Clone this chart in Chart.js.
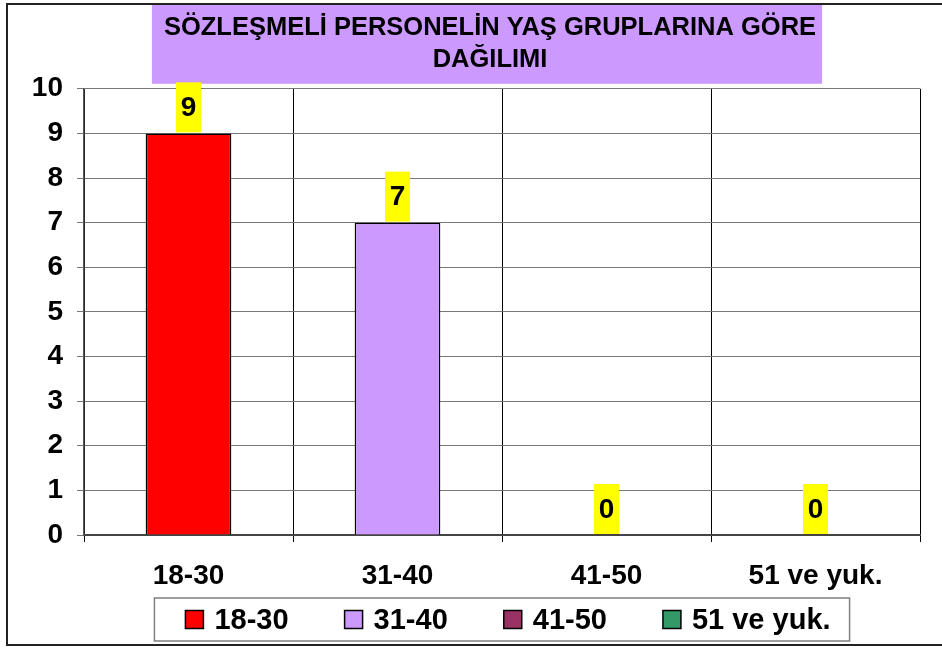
<!DOCTYPE html>
<html>
<head>
<meta charset="utf-8">
<script src="https://cdn.jsdelivr.net/npm/chart.js"></script>
<style>
  body { margin: 0; background: #fff; }
  canvas { display: block; }
</style>
</head>
<body>
<canvas id="chart" width="942" height="649"></canvas>
<script>
const titleLines = ["SÖZLEŞMELİ PERSONELİN YAŞ GRUPLARINA GÖRE", "DAĞILIMI"];
const ageGroups = ["18-30", "31-40", "41-50", "51 ve yuk."];
const staffCounts = [9, 7, 0, 0];
const groupColors = ["#FF0000", "#CC99FF", "#993366", "#339966"];
const yMin = 0;
const yMax = 10;
const yStep = 1;

const FONT = "'Liberation Sans', Arial, sans-serif";
const TITLE_SIZE = 25.5;
Chart.defaults.font.family = FONT;
Chart.defaults.color = "#000";

// outer frame + purple band behind the title
const backdrop = {
  id: "backdrop",
  afterLayout(chart) {
    // title sits a bit right of the page centre in the original
    chart.titleBlock.left = 60;
  },
  beforeDraw(chart) {
    const ctx = chart.ctx;
    const t = chart.titleBlock;
    ctx.save();
    ctx.fillStyle = "#fff";
    ctx.fillRect(0, 0, chart.width, chart.height);
    ctx.strokeStyle = "#222";
    ctx.lineWidth = 2;
    ctx.strokeRect(7, 4, chart.width + 10, chart.height - 8);
    ctx.font = "bold " + TITLE_SIZE + "px " + FONT;
    const w = ctx.measureText(titleLines[0]).width;
    const cx = (t.left + t.right) / 2;
    ctx.fillStyle = "#CC99FF";
    ctx.fillRect(cx - w / 2 - 12, t.top + 5, w + 18, t.height - 10);
    ctx.restore();
  }
};

// yellow value boxes above bars
const valueBoxes = {
  id: "valueBoxes",
  afterDatasetsDraw(chart) {
    const ctx = chart.ctx;
    const meta = chart.getDatasetMeta(0);
    ctx.save();
    ctx.font = "bold 28px " + FONT;
    ctx.textAlign = "center";
    ctx.textBaseline = "middle";
    meta.data.forEach((bar, i) => {
      const bw = 25, bh = 50;
      const bottom = bar.y - 1;
      ctx.fillStyle = "#FFFF00";
      ctx.fillRect(bar.x - bw / 2, bottom - bh, bw, bh);
      ctx.fillStyle = "#000";
      ctx.fillText(String(staffCounts[i]), bar.x, bottom - bh / 2 + 1);
    });
    ctx.restore();
  }
};

// boxed legend under the x axis
const boxedLegend = {
  id: "boxedLegend",
  afterDraw(chart) {
    const ctx = chart.ctx;
    const area = chart.chartArea;
    const sq = 18, gap = 11, spacing = 56;
    ctx.save();
    ctx.font = "bold 29px " + FONT;
    const widths = ageGroups.map(g => ctx.measureText(g).width);
    const total = widths.reduce((a, w) => a + sq + gap + w, 0) + spacing * (ageGroups.length - 1);
    let x = (area.left + area.right) / 2 + 6 - total / 2;
    const top = area.bottom + 63;
    const h = 43;
    const cy = top + h / 2;
    ctx.strokeStyle = "#808080";
    ctx.lineWidth = 1.5;
    ctx.strokeRect(x - 31, top, total + 50, h);
    ctx.textBaseline = "middle";
    ageGroups.forEach((g, i) => {
      ctx.fillStyle = groupColors[i];
      ctx.fillRect(x, cy - sq / 2, sq, sq);
      ctx.strokeStyle = "#000";
      ctx.lineWidth = 1.5;
      ctx.strokeRect(x, cy - sq / 2, sq, sq);
      ctx.fillStyle = "#000";
      ctx.fillText(g, x + sq + gap, cy + 1);
      x += sq + gap + widths[i] + spacing;
    });
    ctx.restore();
  }
};

new Chart(document.getElementById("chart"), {
  type: "bar",
  data: {
    labels: ageGroups,
    datasets: [{
      data: staffCounts,
      backgroundColor: groupColors,
      borderColor: "#000",
      borderWidth: 1.5,
      categoryPercentage: 1,
      barPercentage: 0.41
    }]
  },
  options: {
    responsive: false,
    animation: false,
    layout: { padding: { left: 8, right: 22, top: 0, bottom: 51 } },
    plugins: {
      legend: { display: false },
      tooltip: { enabled: false },
      title: {
        display: true,
        text: titleLines,
        color: "#000",
        font: { size: TITLE_SIZE, weight: "bold", lineHeight: 1.25 },
        padding: { top: 12, bottom: 13 }
      }
    },
    scales: {
      x: {
        grid: {
          color: c => (c.index === ageGroups.length ? "#808080" : "#000"),
          lineWidth: c => (c.index === ageGroups.length ? 2 : 1),
          tickLength: 7
        },
        border: { color: "#444", width: 2 },
        ticks: { font: { size: 28, weight: "bold" }, padding: 17, color: "#000" },
        afterFit(s) { s.height = 63; }
      },
      y: {
        min: yMin,
        max: yMax,
        grid: { color: "#777", lineWidth: 1, tickLength: 7 },
        border: { color: "#555", width: 1.5 },
        ticks: { stepSize: yStep, font: { size: 28, weight: "bold" }, padding: 14, color: "#000" },
        afterFit(s) { s.width = 76; }
      }
    }
  },
  plugins: [backdrop, valueBoxes, boxedLegend]
});
</script>
</body>
</html>
